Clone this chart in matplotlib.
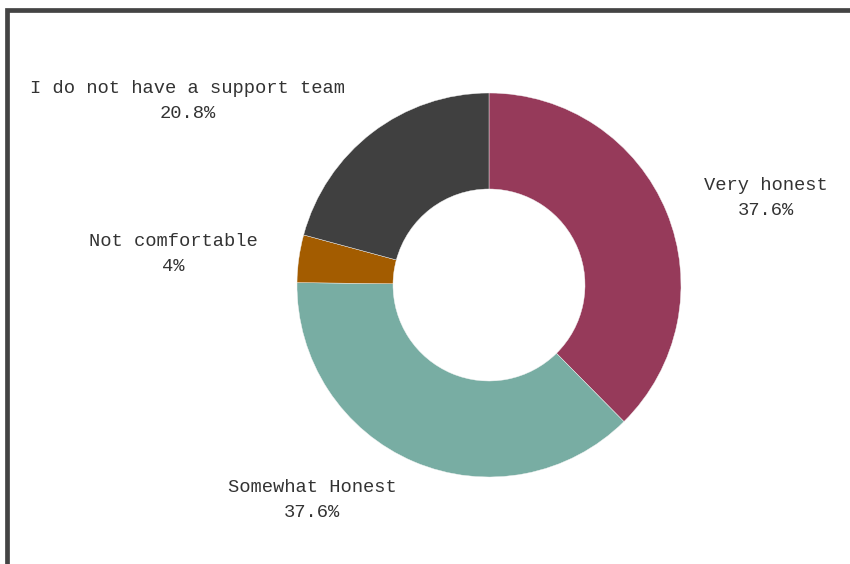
"""
Donut chart: how honest people feel they can be with their support team.
"""

import matplotlib
matplotlib.use("Agg")
import matplotlib.pyplot as plt
from matplotlib.patches import Rectangle

categories = ["Very honest", "Somewhat Honest", "Not comfortable",
              "I do not have a support team"]
shares = [37.6, 37.6, 4, 20.8]
share_labels = ["37.6%", "37.6%", "4%", "20.8%"]
colors = ["#963a5a", "#78ada3", "#a35c00", "#404040"]

# where each label block sits (pixel space, y up)
label_pos = [(766, 366), (312, 64), (173, 310), (188, 463)]

W, H = 850, 564
fig = plt.figure(figsize=(8.5, 5.64), dpi=100)
ax = fig.add_axes([0, 0, 1, 1])

ax.pie(shares, colors=colors, startangle=90, counterclock=False,
       center=(489, 279), radius=192, frame=True,
       wedgeprops=dict(width=96, edgecolor="#f4f4f4", linewidth=0.3))
ax.set_xlim(0, W)
ax.set_ylim(0, H)
ax.set_aspect("equal")
ax.axis("off")

for name, lab, (x, y) in zip(categories, share_labels, label_pos):
    ax.text(x, y, f"{name}\n{lab}", ha="center", va="center",
            fontsize=13.5, family="Liberation Mono", color="#333333",
            linespacing=1.55, multialignment="center")

# dark frame, only top and left edges land inside the canvas
ax.add_patch(Rectangle((7.5, -20), 900, 574.5, fill=False,
                       edgecolor="#444444", linewidth=3.4, clip_on=False))

fig.savefig("out.png", dpi=100)
